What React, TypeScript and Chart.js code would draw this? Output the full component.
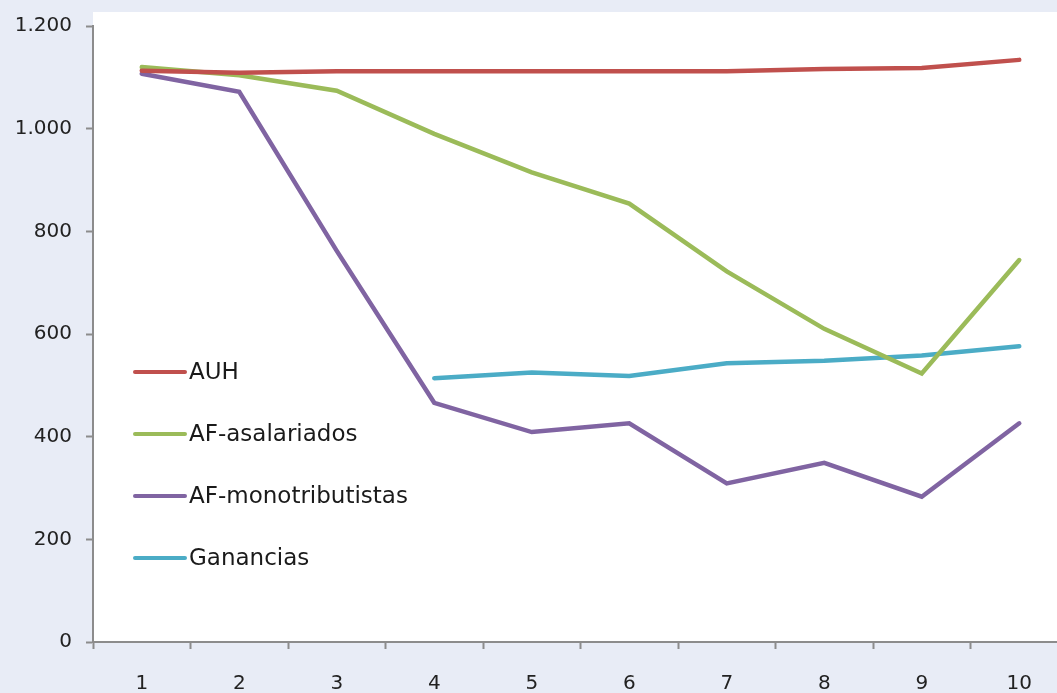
import React, { useEffect, useRef } from "react";
import { Chart, registerables } from "chart.js";

Chart.register(...registerables);

const categories = ["1", "2", "3", "4", "5", "6", "7", "8", "9", "10"];
const auh = [1113, 1109, 1112, 1112, 1112, 1112, 1112, 1116, 1118, 1134];
const afAsalariados = [1120, 1104, 1074, 990, 915, 854, 722, 610, 523, 744];
const afMonotributistas = [1107, 1072, 762, 466, 409, 426, 309, 349, 283, 426];
const ganancias = [null, null, null, 514, 525, 518, 543, 548, 558, 576];
const seriesNames = ["AUH", "AF-asalariados", "AF-monotributistas", "Ganancias"];
const seriesColors = ["#C0504D", "#9BBB59", "#8064A2", "#4BACC6"];
const yTicks = [0, 200, 400, 600, 800, 1000, 1200];

const FONT = "'DejaVu Sans', 'Open Sans', sans-serif";
const BG = "#E8ECF6";

const bgPlugin = {
  id: "bgPlugin",
  beforeDraw(chart: any) {
    const { ctx, chartArea, width, height } = chart;
    ctx.save();
    ctx.fillStyle = BG;
    ctx.fillRect(0, 0, width, height);
    ctx.fillStyle = "#FFFFFF";
    ctx.fillRect(chartArea.left, chartArea.top - 14, width - chartArea.left, chartArea.bottom - chartArea.top + 14);
    ctx.restore();
  },
};

const legendPlugin = {
  id: "insideLegend",
  afterDatasetsDraw(chart: any) {
    const { ctx, chartArea } = chart;
    ctx.save();
    chart.data.datasets.forEach((ds: any, i: number) => {
      const y = chartArea.top + 346 + i * 62;
      const x0 = chartArea.left + 42;
      ctx.strokeStyle = ds.borderColor;
      ctx.lineWidth = 4;
      ctx.lineCap = "round";
      ctx.beginPath();
      ctx.moveTo(x0, y);
      ctx.lineTo(x0 + 50, y);
      ctx.stroke();
      ctx.fillStyle = "#1A1A1A";
      ctx.font = `23px ${FONT}`;
      ctx.textBaseline = "middle";
      ctx.textAlign = "left";
      ctx.fillText(ds.label, x0 + 54, y + 1);
    });
    ctx.restore();
  },
};

export default function App() {
  const ref = useRef<HTMLCanvasElement | null>(null);

  useEffect(() => {
    document.body.style.margin = "0";
    const canvas = ref.current;
    if (!canvas) return;
    const seriesData = [auh, afAsalariados, afMonotributistas, ganancias];
    const chart = new Chart(canvas, {
      type: "line",
      data: {
        labels: categories,
        datasets: seriesData.map((d, i) => ({
          label: seriesNames[i],
          data: d,
          borderColor: seriesColors[i],
          backgroundColor: seriesColors[i],
          borderWidth: 4.5,
          pointRadius: 0,
          pointHoverRadius: 0,
          tension: 0,
          borderCapStyle: "round",
          borderJoinStyle: "miter",
          spanGaps: false,
        })),
      },
      options: {
        responsive: false,
        animation: false,
        devicePixelRatio: 1,
        layout: { padding: { top: 25, right: 7, left: 0, bottom: 0 } },
        plugins: {
          legend: { display: false },
          tooltip: { enabled: false },
        },
        scales: {
          x: {
            type: "category",
            offset: true,
            afterFit(scale: any) {
              scale.height = 51;
            },
            grid: {
              offset: true,
              drawOnChartArea: false,
              drawTicks: true,
              tickLength: 7,
              tickWidth: 2,
              tickColor: "#8C8C8C",
            },
            border: { display: true, color: "#8C8C8C", width: 2 },
            ticks: {
              color: "#222222",
              font: { family: FONT, size: 20 },
              padding: 23,
              maxRotation: 0,
            },
          },
          y: {
            min: 0,
            max: 1200,
            afterFit(scale: any) {
              scale.width = 93;
            },
            afterBuildTicks(scale: any) {
              scale.ticks = yTicks.map((v) => ({ value: v }));
            },
            grid: {
              drawOnChartArea: false,
              drawTicks: true,
              tickLength: 7,
              tickWidth: 2,
              tickColor: "#8C8C8C",
            },
            border: { display: true, color: "#8C8C8C", width: 2 },
            ticks: {
              color: "#222222",
              font: { family: FONT, size: 20 },
              padding: 14,
              callback: (v: any) => String(v).replace(/\B(?=(\d{3})+(?!\d))/g, "."),
            },
          },
        },
      },
      plugins: [bgPlugin, legendPlugin],
    });
    return () => chart.destroy();
  }, []);

  return (
    <div
      style={{
        position: "absolute",
        left: 0,
        top: 0,
        width: 1057,
        height: 693,
        overflow: "hidden",
        background: BG,
      }}
    >
      <canvas ref={ref} width={1075} height={693} style={{ display: "block" }} />
    </div>
  );
}
